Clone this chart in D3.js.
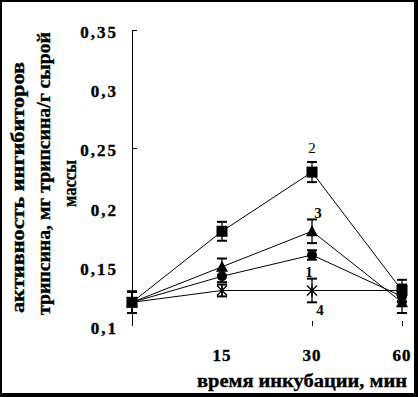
<!DOCTYPE html>
<html>
<head>
<meta charset="utf-8">
<script src="https://cdn.jsdelivr.net/npm/d3@7"></script>
<style>
body { margin: 0; background: #fff; }
svg { display: block; }
text { font-family: "Liberation Serif", "Times New Roman", serif; fill: #000; }
.heavy { font-weight: bold; stroke: #000; stroke-width: 0.35px; }
</style>
</head>
<body>
<div id="chart"></div>
<script>
// data
const times = ["0", "15", "30", "60"];
const timeLabels = ["", "15", "30", "60"];
const yTicks = [0.35, 0.3, 0.25, 0.2, 0.15, 0.1];
const yTickLabels = ["0,35", "0,3", "0,25", "0,2", "0,15", "0,1"];

const names = ["1", "2", "3", "4"];
const s1 = [0.12, 0.142, 0.16, 0.125];
const e1 = [0.009, 0.005, 0.004, 0.005];
const s2 = [0.12, 0.18, 0.23, 0.13];
const e2 = [0.009, 0.008, 0.0085, 0.009];
const s3 = [0.12, 0.15, 0.18, 0.12];
const e3 = [0.009, 0.007, 0.01, 0.009];
const s4 = [0.12, 0.13, 0.13, 0.13];
const e4 = [0.009, 0.005, 0.01, 0.005];

const W = 418, H = 397;

let svg = d3.select("#chart").append("svg")
  .attr("width", W).attr("height", H);

// frame
svg.append("rect").attr("width", W).attr("height", H).attr("fill", "#000");
svg.append("rect").attr("x", 2).attr("y", 2).attr("width", 412).attr("height", 391).attr("fill", "#fff");

let x = d3.scalePoint().domain(times).range([132, 402]);
let y = d3.scaleLinear().domain([0.1, 0.35]).range([326, 30]);

// y axis
svg.append("line")
  .attr("x1", 132.5).attr("x2", 132.5)
  .attr("y1", y(0.35)).attr("y2", y(0.1))
  .attr("stroke", "#000");
svg.selectAll(".ytick").data([0.35, 0.25]).enter().append("line")
  .attr("x1", 132).attr("x2", 137)
  .attr("y1", d => Math.round(y(d)) + 0.5).attr("y2", d => Math.round(y(d)) + 0.5)
  .attr("stroke", "#000");

svg.selectAll(".ylab").data(yTicks).enter().append("text")
  .attr("class", "heavy")
  .attr("x", 118)
  .attr("y", d => y(d) + 8)
  .attr("text-anchor", "end")
  .attr("font-size", 17)
  .attr("letter-spacing", 2)
  .text((d, i) => yTickLabels[i]);

// x ticks (only 30 and 60 visible)
svg.selectAll(".xtick").data(["30", "60"]).enter().append("line")
  .attr("x1", d => x(d) + 0.5).attr("x2", d => x(d) + 0.5)
  .attr("y1", 321).attr("y2", 326)
  .attr("stroke", "#000");

svg.selectAll(".xlab").data(times).enter().append("text")
  .attr("class", "heavy")
  .attr("x", d => x(d))
  .attr("y", 361)
  .attr("text-anchor", "middle")
  .attr("font-size", 17)
  .attr("letter-spacing", 1)
  .text((d, i) => timeLabels[i]);

// axis titles
svg.append("text")
  .attr("class", "heavy")
  .attr("x", 197).attr("y", 387)
  .attr("font-size", 18)
  .attr("textLength", 210).attr("lengthAdjust", "spacingAndGlyphs")
  .text("время инкубации, мин");

const yTitle = [
  {t: "активность ингибиторов", cx: 24, cy: 187.5, len: 251},
  {t: "трипсина, мг трипсина/г сырой", cx: 50, cy: 173.5, len: 283},
  {t: "массы", cx: 76, cy: 183.5, len: 47}
];
svg.selectAll(".ytitle").data(yTitle).enter().append("text")
  .attr("class", "heavy")
  .attr("transform", d => `translate(${d.cx},${d.cy}) rotate(-90)`)
  .attr("text-anchor", "middle")
  .attr("font-size", 18)
  .attr("textLength", d => d.len).attr("lengthAdjust", "spacingAndGlyphs")
  .text(d => d.t);

// series
const series = [
  {name: names[0], v: s1, e: e1, m: "circle", lab: [-3, 17], bold: true},
  {name: names[1], v: s2, e: e2, m: "square", lab: [0, -24], bold: false},
  {name: names[2], v: s3, e: e3, m: "triangle", lab: [6, -19], bold: true},
  {name: names[3], v: s4, e: e4, m: "star", lab: [8, 19], bold: true}
];

let line = d3.line().x((d, i) => x(times[i])).y(d => y(d));

svg.selectAll(".series").data(series).enter().append("path")
  .attr("d", d => line(d.v))
  .attr("fill", "none")
  .attr("stroke", "#000")
  .attr("stroke-width", 1);

series.forEach(s => {
  let g = svg.append("g");
  s.v.forEach((v, i) => {
    let cx = x(times[i]), cy = y(v);
    let top = y(v + s.e[i]), bot = y(v - s.e[i]);
    g.append("line").attr("x1", cx).attr("x2", cx).attr("y1", top).attr("y2", bot).attr("stroke", "#000").attr("stroke-width", 1.3);
    g.append("line").attr("x1", cx - 5).attr("x2", cx + 5).attr("y1", top).attr("y2", top).attr("stroke", "#000").attr("stroke-width", 2);
    g.append("line").attr("x1", cx - 5).attr("x2", cx + 5).attr("y1", bot).attr("y2", bot).attr("stroke", "#000").attr("stroke-width", 2);

    if (s.m == "square") {
      g.append("rect").attr("x", cx - 5.5).attr("y", cy - 5.5).attr("width", 11).attr("height", 11).attr("fill", "#000");
    } else if (s.m == "circle") {
      g.append("circle").attr("cx", cx).attr("cy", cy).attr("r", 5).attr("fill", "#000");
    } else if (s.m == "triangle") {
      g.append("path").attr("d", `M${cx},${cy - 6}L${cx + 6},${cy + 5}L${cx - 6},${cy + 5}Z`).attr("fill", "#000");
    } else {
      g.append("path").attr("d", `M${cx - 5},${cy - 5}L${cx + 5},${cy + 5}M${cx - 5},${cy + 5}L${cx + 5},${cy - 5}M${cx},${cy - 6}L${cx},${cy + 6}`)
        .attr("stroke", "#000").attr("stroke-width", 1.3);
    }
  });

  // series number near 30 min point
  svg.append("text")
    .attr("x", x("30") + s.lab[0])
    .attr("y", y(s.v[2]) + s.lab[1])
    .attr("text-anchor", "middle")
    .attr("font-size", 15)
    .style("font-weight", s.bold ? "bold" : "normal")
    .attr("dy", "0.35em")
    .text(s.name);
});
</script>
</body>
</html>
